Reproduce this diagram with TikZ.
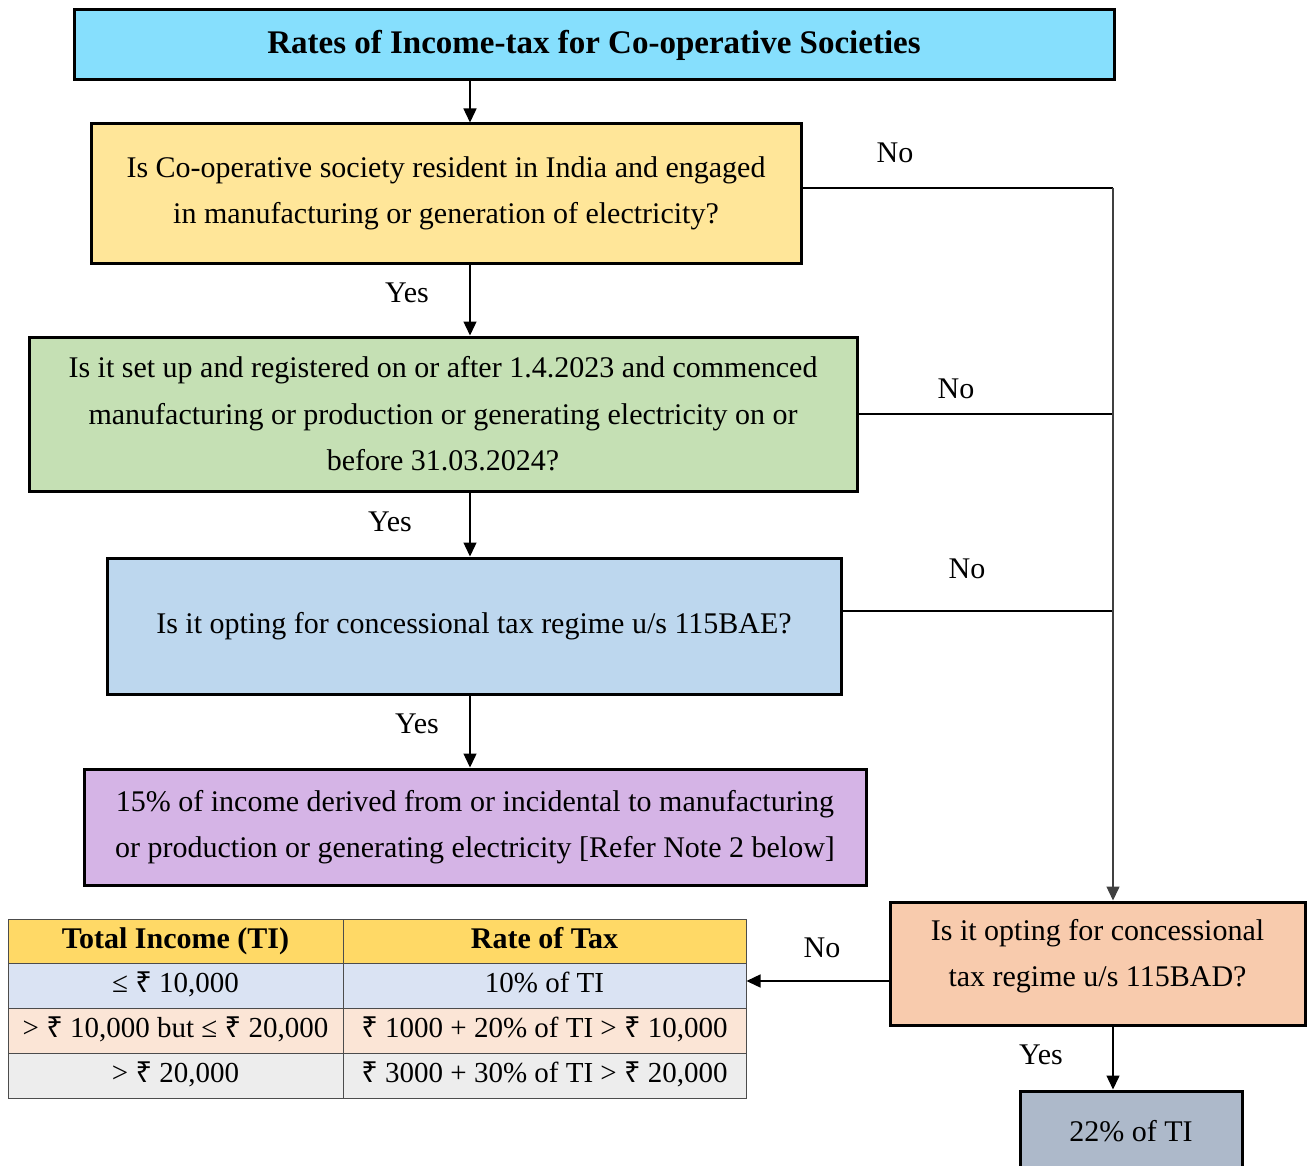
\documentclass[tikz,border=0pt]{standalone}
\usepackage{fontspec}
\setmainfont{Liberation Serif}
\newfontfamily\rupeefont{Noto Sans}
\usetikzlibrary{arrows.meta}
\newcommand{\rs}{{\rupeefont ₹}}
\definecolor{titlecol}{RGB}{134,223,253}
\definecolor{q1col}{RGB}{255,230,153}
\definecolor{q2col}{RGB}{197,224,180}
\definecolor{q3col}{RGB}{189,215,238}
\definecolor{res1col}{RGB}{213,180,230}
\definecolor{q4col}{RGB}{248,203,173}
\definecolor{res2col}{RGB}{173,185,202}
\definecolor{headcol}{RGB}{255,217,102}
\definecolor{row1col}{RGB}{218,227,243}
\definecolor{row2col}{RGB}{251,229,214}
\definecolor{row3col}{RGB}{237,237,237}

\begin{document}
\begin{tikzpicture}[x=1pt, y=-1pt,
  every node/.style={font=\fontsize{30}{46.5}\selectfont, align=center},
  box/.style={draw=black, line width=3pt, inner sep=0pt},
  cell/.style={draw=black!70, line width=1pt, inner sep=0pt, minimum height=45pt,
    text height=20pt, text depth=6pt, font=\fontsize{29}{34}\selectfont},
  head/.style={cell, fill=headcol, minimum height=44pt, font=\bfseries\fontsize{30}{34}\selectfont},
  link/.style={line width=1.4pt},
  arr/.style={link, -{Triangle[length=14pt,width=13pt]}},
  lbl/.style={inner sep=0pt}]
  \useasboundingbox (0,0) rectangle (1308,1166);
  \coordinate (spine) at (470,0);
  \coordinate (trunk) at (1113,0);

  % decision boxes
  \node[box, fill=titlecol, minimum width=1040pt, minimum height=70pt,
    font=\bfseries\fontsize{33}{38}\selectfont] (title) at (594,45)
    {Rates of Income-tax for Co-operative Societies};
  \node[box, fill=q1col, minimum width=710pt, minimum height=139pt] (q1) at (446,193.5)
    {Is Co-operative society resident in India and engaged\\in manufacturing or generation of electricity?};
  \node[box, fill=q2col, minimum width=828pt, minimum height=154pt] (q2) at (443,414)
    {Is it set up and registered on or after 1.4.2023 and commenced\\manufacturing or production or generating electricity on or\\before 31.03.2024?};
  \node[box, fill=q3col, minimum width=734pt, minimum height=136pt] (q3) at (474,626)
    {Is it opting for concessional tax regime u/s 115BAE?};
  \node[box, fill=res1col, minimum width=782pt, minimum height=116pt] (res1) at (475,827)
    {15\% of income derived from or incidental to manufacturing\\or production or generating electricity [Refer Note 2 below]};
  \node[box, fill=q4col, minimum width=415pt, minimum height=123pt, text depth=21pt] (q4) at (1097.5,963.5)
    {Is it opting for concessional\\tax regime u/s 115BAD?};
  \node[box, fill=res2col, minimum width=222pt, minimum height=80pt] (res2) at (1131,1131)
    {22\% of TI};

  % rate table
  \node[head, minimum width=335pt] (t0a) at (175.5,941) {Total Income (TI)};
  \node[head, minimum width=403pt] (t0b) at (544.5,941) {Rate of Tax};
  \node[cell, fill=row1col, minimum width=335pt] (t1a) at (175.5,985.5) {≤ \rs\ 10,000};
  \node[cell, fill=row1col, minimum width=403pt] (t1b) at (544.5,985.5) {10\% of TI};
  \node[cell, fill=row2col, minimum width=335pt] (t2a) at (175.5,1030.5) {> \rs\ 10,000 but ≤ \rs\ 20,000};
  \node[cell, fill=row2col, minimum width=403pt] (t2b) at (544.5,1030.5) {\rs\ 1000 + 20\% of TI > \rs\ 10,000};
  \node[cell, fill=row3col, minimum width=335pt] (t3a) at (175.5,1075.5) {> \rs\ 20,000};
  \node[cell, fill=row3col, minimum width=403pt] (t3b) at (544.5,1075.5) {\rs\ 3000 + 30\% of TI > \rs\ 20,000};

  % yes branch
  \draw[arr] (title.south -| spine) -- (q1.north -| spine);
  \draw[arr] (q1.south -| spine) -- (q2.north -| spine);
  \draw[arr] (q2.south -| spine) -- (q3.north -| spine);
  \draw[arr] (q3.south -| spine) -- (res1.north -| spine);

  % no branch
  \path ([yshift=5.5pt]q1.east) coordinate (q1out);
  \path ([yshift=15pt]q3.east) coordinate (q3out);
  \path ([yshift=4.5pt]t1b.east) coordinate (t1in);
  \draw[link] (q1out) -- (q1out -| trunk);
  \draw[link] (q2.east) -- (q2.east -| trunk);
  \draw[link] (q3out) -- (q3out -| trunk);
  \draw[arr, draw=black!75] (q1out -| trunk) -- (q4.north -| trunk);
  \draw[arr] (q4.west |- t1in) -- (t1in);
  \draw[arr] (q4.south -| trunk) -- (res2.north -| trunk);

  % labels
  \node[lbl] (no1) at (895,153) {No};
  \node[lbl] (no2) at (956,389) {No};
  \node[lbl] (no3) at (967,569) {No};
  \node[lbl] (no4) at (822,948) {No};
  \node[lbl] (yes1) at (407,293) {Yes};
  \node[lbl] (yes2) at (390,522) {Yes};
  \node[lbl] (yes3) at (417,724) {Yes};
  \node[lbl] (yes4) at (1041,1055) {Yes};
\end{tikzpicture}
\end{document}
